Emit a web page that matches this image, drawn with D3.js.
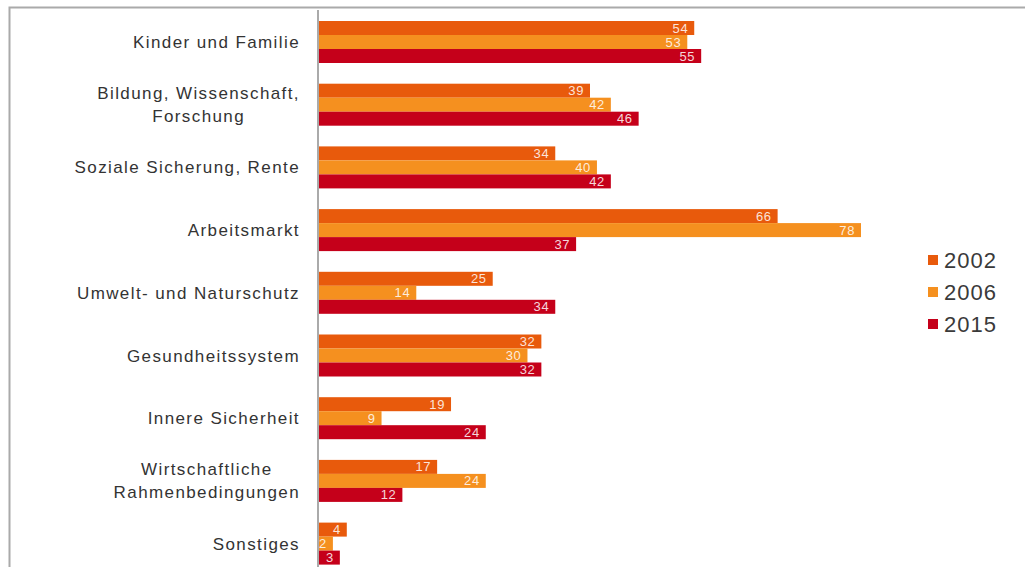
<!DOCTYPE html>
<html><head><meta charset="utf-8">
<script src="https://cdn.jsdelivr.net/npm/d3@7"></script>
<style>body{margin:0;background:#fff}svg{display:block}</style>
</head><body>
<svg id="c" width="1025" height="567"></svg>
<script>
const categories = [
  ["Kinder und Familie"],
  ["Bildung, Wissenschaft,", "Forschung"],
  ["Soziale Sicherung, Rente"],
  ["Arbeitsmarkt"],
  ["Umwelt- und Naturschutz"],
  ["Gesundheitssystem"],
  ["Innere Sicherheit"],
  ["Wirtschaftliche", "Rahmenbedingungen"],
  ["Sonstiges"]
];
const seriesNames = ["2002", "2006", "2015"];
const values2002 = [54, 39, 34, 66, 25, 32, 19, 17, 4];
const values2006 = [53, 42, 40, 78, 14, 30, 9, 24, 2];
const values2015 = [55, 46, 42, 37, 34, 32, 24, 12, 3];
const colors = ["#E85A0C", "#F5901F", "#C5001A"];

const seriesValues = [values2002, values2006, values2015];
const svg = d3.select("#c");
const x0 = 319;
const x = d3.scaleLinear().domain([0, 78]).range([x0, 861]);
const y = d3.scaleLinear().domain([0, 1]).range([21, 21 + 62.7]);
const yi = d3.scaleBand().domain(d3.range(3)).range([0, 42]);

// frame
svg.append("path").attr("d", "M9.5,567 V7.5 H1025").attr("fill", "none").attr("stroke", "#aaa").attr("stroke-width", 2);

const font = "'Liberation Sans', Arial, sans-serif";
categories.forEach((lines, i) => {
  const g = svg.append("g").attr("transform", `translate(0,${y(i)})`);
  seriesValues.forEach((vals, s) => {
    const v = vals[i];
    g.append("rect").attr("x", x0).attr("y", yi(s)).attr("width", x(v) - x0).attr("height", yi.bandwidth())
      .attr("fill", colors[s]);
    g.append("text").attr("x", x(v) - 6).attr("y", yi(s) + yi.bandwidth() / 2 + 4.5)
      .attr("text-anchor", "end").attr("fill", "#fff").attr("fill-opacity", 0.85)
      .attr("font-family", font).attr("font-size", 13).attr("letter-spacing", 0.6).text(v);
  });
  const mid = 21;
  const lh = 23;
  const t = g.append("text").attr("font-family", font).attr("font-size", 17).attr("letter-spacing", 1.4).attr("fill", "#333");
  const spans = lines.map((l, k) => t.append("tspan").attr("y", mid + 6 + (k - (lines.length - 1) / 2) * lh).text(l));
  const widths = spans.map(sp => sp.node().getComputedTextLength());
  const maxW = d3.max(widths);
  spans.forEach(sp => sp.attr("x", 300 - maxW / 2).attr("text-anchor", "middle"));
});

// axis line
svg.append("line").attr("x1", 318).attr("x2", 318).attr("y1", 10).attr("y2", 567).attr("stroke", "#aaa").attr("stroke-width", 2);

// legend
seriesNames.forEach((n, s) => {
  const ly = 260 + s * 32;
  svg.append("rect").attr("x", 928).attr("y", ly - 5).attr("width", 10).attr("height", 10).attr("fill", colors[s]);
  svg.append("text").attr("x", 944).attr("y", ly + 8).attr("font-family", font).attr("font-size", 22)
    .attr("letter-spacing", 1).attr("fill", "#3a3a3a").text(n);
});
</script>
</body></html>
